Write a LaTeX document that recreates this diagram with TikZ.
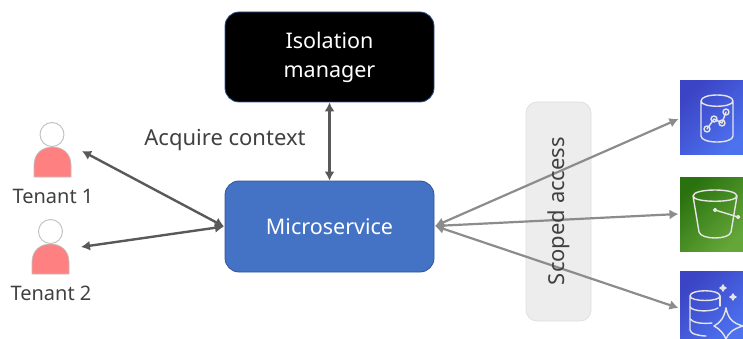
\documentclass[tikz,border=0pt]{standalone}
\usepackage{fontspec}
\setmainfont{Noto Sans}
\usetikzlibrary{arrows.meta}
\definecolor{txt}{HTML}{404040}
\definecolor{msblue}{HTML}{4472C4}
\definecolor{edge}{HTML}{2F5597}
\definecolor{pink}{HTML}{FF8080}
\definecolor{blue1}{HTML}{3B44C4}
\definecolor{blue2}{HTML}{4D72F0}
\definecolor{green1}{HTML}{2A720F}
\definecolor{green2}{HTML}{64A638}
\tikzset{
  box/.style={draw=edge,line width=0.8pt,rounded corners=14pt,minimum width=209pt,minimum height=90pt,align=center,font=\fontsize{21.5}{29}\selectfont,inner sep=0pt},
  lab/.style={text=txt,inner sep=0pt,font=\fontsize{20}{23}\selectfont},
  biglab/.style={text=txt,inner sep=0pt,font=\fontsize{22}{26}\selectfont},
  head/.style={circle,draw=black!25,fill=white,line width=0.9pt,minimum size=24pt,inner sep=0pt},
  body/.style={draw=black!25,fill=pink,line width=0.7pt},
  dark/.style={draw=black!65,line width=2.4pt,{Latex[length=9pt,width=10pt]}-{Latex[length=9pt,width=10pt]}},
  light/.style={draw=black!45,line width=2.2pt,{Latex[length=9pt,width=10pt]}-{Latex[length=9pt,width=10pt]}},
  ico/.style={draw=white!90!black,line width=1.4pt,line cap=round,line join=round},
  bluetile/.style={shading=axis,left color=blue1,right color=blue2,shading angle=45},
  greentile/.style={shading=axis,left color=green1,right color=green2,shading angle=45},
}
\begin{document}
\begin{tikzpicture}[x=1pt,y=-1pt]
\useasboundingbox (0,0) rectangle (743,339);
\clip (0,0) rectangle (743,339);
% Scoped access band
\node[draw=black!12,fill=black!7,line width=0.8pt,rounded corners=11pt,minimum width=65pt,minimum height=219pt,inner sep=0pt] (scope) at (558.5,211.5) {};
% Boxes
\node[box,fill=black,text=white] (iso) at (329.5,57) {Isolation\\manager};
\node[box,fill=msblue,text=white,minimum height=91pt] (ms) at (329.5,226.5) {Microservice};
% Tenants
\draw[body] (34,177) -- (34,165) .. controls (34,153) and (43,147) .. (52.5,147) .. controls (62,147) and (71,153) .. (71,165) -- (71,177) -- cycle;
\node[head] (h1) at (52,134.5) {};
\draw[body] (32,274) -- (32,262) .. controls (32,250) and (41,244) .. (50.5,244) .. controls (60,244) and (69,250) .. (69,262) -- (69,274) -- cycle;
\node[head] (h2) at (50.5,231.5) {};
\node[lab] (t1) at (53,196) {Tenant 1};
\node[lab] (t2) at (51,293) {Tenant 2};
% Tiles
\node[bluetile,minimum width=64pt,minimum height=74pt,inner sep=0pt] (db) at (712,118) {};
\node[greentile,minimum width=64pt,minimum height=74pt,inner sep=0pt] (bucket) at (712,214) {};
\node[bluetile,minimum width=64pt,minimum height=74pt,inner sep=0pt] (ai) at (712,308) {};
% Icon: database with chart
\draw[ico] (701,101) .. controls (701,93) and (733,93) .. (733,101) .. controls (733,108) and (701,108) .. (701,101) -- (701,136) .. controls (701,144) and (733,144) .. (733,136) -- (733,101);
\draw[ico] (707,129) -- (714,119) -- (722,123) -- (726,112);
\foreach \p in {(707,129),(714,119),(722,123),(726,112)} \node[ico,circle,minimum size=6pt,inner sep=0pt] at \p {};
% Icon: bucket
\draw[ico] (693,196) .. controls (693,188) and (737,188) .. (737,196) .. controls (737,203) and (693,203) .. (693,196) -- (699,232) .. controls (701,240) and (729,240) .. (731,232) -- (737,196);
\draw[ico] (715,210) -- (738,217) (715,210) circle (1.5pt) (738,217) circle (1.5pt);
% Icon: database with sparkle
\draw[ico] (690,296) .. controls (690,289) and (720,289) .. (720,296) .. controls (720,302) and (690,302) .. (690,296) -- (690,330) .. controls (690,334) and (700,336) .. (706,336);
\draw[ico] (720,296) -- (720,306);
\draw[ico] (690,307) .. controls (693,312) and (712,312) .. (718,308);
\draw[ico] (690,319) .. controls (693,323) and (703,324) .. (712,323);
\draw[ico] (726,308) .. controls (728,318) and (732,323) .. (743,326) .. controls (732,329) and (728,334) .. (726,339);
\draw[ico] (726,308) .. controls (724,318) and (720,323) .. (714,326) .. controls (720,329) and (724,334) .. (726,339);
\draw[ico,fill=white!90!black] (723,285) -- (724,287) -- (726,288) -- (724,289) -- (723,291) -- (722,289) -- (720,288) -- (722,287) -- cycle;
\draw[ico,fill=white!90!black] (733,294) -- (734,296) -- (736,297) -- (734,298) -- (733,300) -- (732,298) -- (730,297) -- (732,296) -- cycle;
% Connector anchors
\coordinate (msl) at (224,226.5);
\coordinate (msr) at (435,226);
\coordinate (h1r) at (82,151);
\coordinate (h2r) at (81,247);
\coordinate (dbl) at (678.5,119);
\coordinate (bul) at (678.5,214);
\coordinate (ail) at (678.5,308);
% Connectors
\draw[dark] (h1r) -- (msl);
\draw[dark] (h2r) -- (msl);
\draw[dark] (iso.south) -- (ms.north);
\draw[light] (msr) -- (dbl);
\draw[light] (msr) -- (bul);
\draw[light] (msr) -- (ail);
% Texts
\node[biglab] (acq) at (225,140) {Acquire context};
\node[biglab,rotate=90] (sa) at (558.5,211) {Scoped access};
\end{tikzpicture}
\end{document}
